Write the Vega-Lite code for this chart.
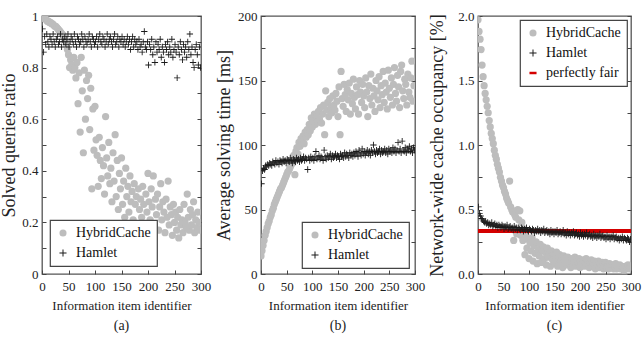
{
"$schema":"https://vega.github.io/schema/vega-lite/v6.json",
"padding":{"left":0,"top":9,"right":8,"bottom":0},
"spacing":2,
"resolve":{"scale":{"color":"independent","shape":"independent"},"legend":{"color":"independent","shape":"independent"}},
"config":{
 "font":"Liberation Serif",
 "view":{"stroke":"#555","strokeWidth":1.3},
 "axis":{"labelFont":"Liberation Serif","labelFontSize":13,"labelColor":"#222","titleFont":"Liberation Serif","titleFontWeight":"normal","titleColor":"#222","tickColor":"#444","tickWidth":1,"tickSize":-4,"grid":false,"domain":false},
 "axisX":{"titleFontSize":13,"labelPadding":10,"titlePadding":6,"labelFlush":false,"labelOverlap":false},
 "axisY":{"titleFontSize":18,"labelPadding":8,"titlePadding":4},
 "legend":{"title":null,"strokeColor":"#444","strokeWidth":1.2,"fillColor":"white","padding":6,"rowPadding":6,"labelFont":"Liberation Serif","labelFontSize":14,"labelColor":"#111","symbolSize":50,"labelOffset":6,"symbolStrokeWidth":0},
 "title":{"font":"Liberation Serif","fontSize":14,"fontWeight":"normal","color":"#222","orient":"bottom","anchor":"middle","offset":7}
},
"datasets":{
"aH":[{"x":0,"y":1.0},{"x":2,"y":0.995},{"x":4,"y":0.99},{"x":6,"y":0.99},{"x":8,"y":0.985},{"x":10,"y":0.98},{"x":12,"y":0.98},{"x":14,"y":0.975},{"x":16,"y":0.975},{"x":18,"y":0.97},{"x":20,"y":0.97},{"x":22,"y":0.965},{"x":24,"y":0.96},{"x":26,"y":0.96},{"x":28,"y":0.955},{"x":30,"y":0.95},{"x":32,"y":0.945},{"x":34,"y":0.94},{"x":36,"y":0.935},{"x":38,"y":0.93},{"x":40,"y":0.925},{"x":42,"y":0.915},{"x":44,"y":0.905},{"x":46,"y":0.89},{"x":48,"y":0.87},{"x":50,"y":0.85},{"x":52,"y":0.8},{"x":54,"y":0.83},{"x":56,"y":0.81},{"x":58,"y":0.79},{"x":60,"y":0.84},{"x":62,"y":0.8},{"x":64,"y":0.76},{"x":66,"y":0.82},{"x":68,"y":0.66},{"x":70,"y":0.78},{"x":72,"y":0.55},{"x":74,"y":0.84},{"x":76,"y":0.71},{"x":78,"y":0.47},{"x":80,"y":0.79},{"x":82,"y":0.6},{"x":84,"y":0.75},{"x":86,"y":0.68},{"x":88,"y":0.77},{"x":90,"y":0.56},{"x":92,"y":0.72},{"x":94,"y":0.33},{"x":96,"y":0.64},{"x":98,"y":0.48},{"x":100,"y":0.65},{"x":102,"y":0.52},{"x":104,"y":0.46},{"x":106,"y":0.34},{"x":108,"y":0.53},{"x":110,"y":0.44},{"x":112,"y":0.37},{"x":114,"y":0.49},{"x":116,"y":0.42},{"x":118,"y":0.31},{"x":120,"y":0.61},{"x":122,"y":0.45},{"x":124,"y":0.38},{"x":126,"y":0.51},{"x":128,"y":0.35},{"x":130,"y":0.41},{"x":132,"y":0.28},{"x":134,"y":0.47},{"x":136,"y":0.36},{"x":138,"y":0.54},{"x":140,"y":0.3},{"x":142,"y":0.44},{"x":144,"y":0.25},{"x":146,"y":0.39},{"x":148,"y":0.33},{"x":150,"y":0.45},{"x":152,"y":0.27},{"x":154,"y":0.36},{"x":156,"y":0.22},{"x":158,"y":0.41},{"x":160,"y":0.3},{"x":162,"y":0.34},{"x":164,"y":0.24},{"x":166,"y":0.38},{"x":168,"y":0.28},{"x":170,"y":0.32},{"x":172,"y":0.21},{"x":174,"y":0.35},{"x":176,"y":0.27},{"x":178,"y":0.3},{"x":180,"y":0.19},{"x":182,"y":0.33},{"x":184,"y":0.25},{"x":186,"y":0.29},{"x":188,"y":0.22},{"x":190,"y":0.34},{"x":192,"y":0.27},{"x":194,"y":0.18},{"x":196,"y":0.31},{"x":198,"y":0.24},{"x":200,"y":0.39},{"x":202,"y":0.28},{"x":204,"y":0.21},{"x":206,"y":0.33},{"x":208,"y":0.26},{"x":210,"y":0.38},{"x":212,"y":0.19},{"x":214,"y":0.29},{"x":216,"y":0.23},{"x":218,"y":0.31},{"x":220,"y":0.17},{"x":222,"y":0.26},{"x":224,"y":0.35},{"x":226,"y":0.21},{"x":228,"y":0.28},{"x":230,"y":0.24},{"x":232,"y":0.16},{"x":234,"y":0.29},{"x":236,"y":0.22},{"x":238,"y":0.36},{"x":240,"y":0.19},{"x":242,"y":0.26},{"x":244,"y":0.23},{"x":246,"y":0.15},{"x":248,"y":0.27},{"x":250,"y":0.2},{"x":252,"y":0.24},{"x":254,"y":0.17},{"x":256,"y":0.22},{"x":258,"y":0.14},{"x":260,"y":0.25},{"x":262,"y":0.19},{"x":264,"y":0.21},{"x":266,"y":0.16},{"x":268,"y":0.27},{"x":270,"y":0.2},{"x":272,"y":0.18},{"x":274,"y":0.31},{"x":276,"y":0.22},{"x":278,"y":0.17},{"x":280,"y":0.25},{"x":282,"y":0.19},{"x":284,"y":0.23},{"x":286,"y":0.28},{"x":288,"y":0.16},{"x":290,"y":0.21},{"x":292,"y":0.18},{"x":294,"y":0.24},{"x":296,"y":0.2},{"x":298,"y":0.17}],
"aM":[{"x":1,"y":0.95},{"x":3,"y":0.86},{"x":5,"y":0.92},{"x":7,"y":0.89},{"x":9,"y":0.93},{"x":11,"y":0.9},{"x":13,"y":0.88},{"x":15,"y":0.92},{"x":17,"y":0.91},{"x":19,"y":0.89},{"x":21,"y":0.93},{"x":23,"y":0.9},{"x":25,"y":0.88},{"x":27,"y":0.91},{"x":29,"y":0.92},{"x":31,"y":0.89},{"x":33,"y":0.9},{"x":35,"y":0.93},{"x":37,"y":0.88},{"x":39,"y":0.91},{"x":41,"y":0.9},{"x":43,"y":0.92},{"x":45,"y":0.89},{"x":47,"y":0.91},{"x":49,"y":0.93},{"x":51,"y":0.88},{"x":53,"y":0.9},{"x":55,"y":0.92},{"x":57,"y":0.91},{"x":59,"y":0.89},{"x":61,"y":0.93},{"x":63,"y":0.9},{"x":65,"y":0.88},{"x":67,"y":0.92},{"x":69,"y":0.91},{"x":71,"y":0.89},{"x":73,"y":0.9},{"x":75,"y":0.93},{"x":77,"y":0.91},{"x":79,"y":0.88},{"x":81,"y":0.92},{"x":83,"y":0.9},{"x":85,"y":0.89},{"x":87,"y":0.91},{"x":89,"y":0.93},{"x":91,"y":0.9},{"x":93,"y":0.88},{"x":95,"y":0.92},{"x":97,"y":0.91},{"x":99,"y":0.89},{"x":101,"y":0.9},{"x":103,"y":0.92},{"x":105,"y":0.88},{"x":107,"y":0.91},{"x":109,"y":0.93},{"x":111,"y":0.9},{"x":113,"y":0.89},{"x":115,"y":0.92},{"x":117,"y":0.91},{"x":119,"y":0.88},{"x":121,"y":0.9},{"x":123,"y":0.93},{"x":125,"y":0.89},{"x":127,"y":0.91},{"x":129,"y":0.92},{"x":131,"y":0.9},{"x":133,"y":0.88},{"x":135,"y":0.91},{"x":137,"y":0.93},{"x":139,"y":0.89},{"x":141,"y":0.9},{"x":143,"y":0.92},{"x":145,"y":0.88},{"x":147,"y":0.91},{"x":149,"y":0.9},{"x":151,"y":0.92},{"x":153,"y":0.89},{"x":155,"y":0.91},{"x":157,"y":0.88},{"x":159,"y":0.9},{"x":161,"y":0.92},{"x":163,"y":0.89},{"x":165,"y":0.91},{"x":167,"y":0.87},{"x":169,"y":0.9},{"x":171,"y":0.92},{"x":173,"y":0.88},{"x":175,"y":0.91},{"x":177,"y":0.89},{"x":179,"y":0.9},{"x":181,"y":0.87},{"x":183,"y":0.91},{"x":185,"y":0.88},{"x":187,"y":0.89},{"x":189,"y":0.86},{"x":191,"y":0.9},{"x":193,"y":0.94},{"x":195,"y":0.88},{"x":197,"y":0.87},{"x":199,"y":0.9},{"x":201,"y":0.81},{"x":203,"y":0.89},{"x":205,"y":0.87},{"x":207,"y":0.91},{"x":209,"y":0.85},{"x":211,"y":0.88},{"x":213,"y":0.82},{"x":215,"y":0.9},{"x":217,"y":0.86},{"x":219,"y":0.89},{"x":221,"y":0.87},{"x":223,"y":0.91},{"x":225,"y":0.84},{"x":227,"y":0.88},{"x":229,"y":0.86},{"x":231,"y":0.82},{"x":233,"y":0.89},{"x":235,"y":0.87},{"x":237,"y":0.9},{"x":239,"y":0.85},{"x":241,"y":0.88},{"x":243,"y":0.86},{"x":245,"y":0.91},{"x":247,"y":0.84},{"x":249,"y":0.87},{"x":251,"y":0.89},{"x":253,"y":0.86},{"x":255,"y":0.76},{"x":257,"y":0.88},{"x":259,"y":0.85},{"x":261,"y":0.9},{"x":263,"y":0.87},{"x":265,"y":0.83},{"x":267,"y":0.89},{"x":269,"y":0.86},{"x":271,"y":0.88},{"x":273,"y":0.84},{"x":275,"y":0.9},{"x":277,"y":0.87},{"x":279,"y":0.93},{"x":281,"y":0.85},{"x":283,"y":0.88},{"x":285,"y":0.82},{"x":287,"y":0.8},{"x":289,"y":0.87},{"x":291,"y":0.89},{"x":293,"y":0.85},{"x":295,"y":0.81},{"x":297,"y":0.88},{"x":299,"y":0.8}],
"bH":[{"x":0,"y":14},{"x":2,"y":18},{"x":4,"y":22},{"x":6,"y":26},{"x":8,"y":30},{"x":10,"y":33},{"x":12,"y":36},{"x":14,"y":39},{"x":16,"y":41},{"x":18,"y":44},{"x":20,"y":46},{"x":22,"y":49},{"x":24,"y":51},{"x":26,"y":54},{"x":28,"y":56},{"x":30,"y":58},{"x":32,"y":60},{"x":34,"y":62},{"x":36,"y":64},{"x":38,"y":66},{"x":40,"y":67},{"x":42,"y":69},{"x":44,"y":71},{"x":46,"y":73},{"x":48,"y":75},{"x":50,"y":77},{"x":52,"y":79},{"x":54,"y":80},{"x":56,"y":82},{"x":58,"y":84},{"x":60,"y":87},{"x":62,"y":86},{"x":64,"y":92},{"x":66,"y":77},{"x":68,"y":95},{"x":70,"y":98},{"x":72,"y":93},{"x":74,"y":102},{"x":76,"y":99},{"x":78,"y":105},{"x":80,"y":103},{"x":82,"y":107},{"x":84,"y":101},{"x":86,"y":110},{"x":88,"y":106},{"x":90,"y":112},{"x":92,"y":108},{"x":94,"y":116},{"x":96,"y":111},{"x":98,"y":121},{"x":100,"y":114},{"x":102,"y":119},{"x":104,"y":124},{"x":106,"y":116},{"x":108,"y":122},{"x":110,"y":118},{"x":112,"y":126},{"x":114,"y":120},{"x":116,"y":129},{"x":118,"y":117},{"x":120,"y":124},{"x":122,"y":131},{"x":124,"y":108},{"x":126,"y":142},{"x":128,"y":127},{"x":130,"y":133},{"x":132,"y":122},{"x":134,"y":136},{"x":136,"y":129},{"x":138,"y":125},{"x":140,"y":138},{"x":142,"y":131},{"x":144,"y":127},{"x":146,"y":140},{"x":148,"y":134},{"x":150,"y":122},{"x":152,"y":145},{"x":154,"y":108},{"x":156,"y":157},{"x":158,"y":136},{"x":160,"y":130},{"x":162,"y":147},{"x":164,"y":139},{"x":166,"y":126},{"x":168,"y":143},{"x":170,"y":135},{"x":172,"y":148},{"x":174,"y":124},{"x":176,"y":140},{"x":178,"y":132},{"x":180,"y":151},{"x":182,"y":137},{"x":184,"y":128},{"x":186,"y":145},{"x":188,"y":139},{"x":190,"y":124},{"x":192,"y":150},{"x":194,"y":141},{"x":196,"y":133},{"x":198,"y":147},{"x":200,"y":138},{"x":202,"y":129},{"x":204,"y":152},{"x":206,"y":141},{"x":208,"y":122},{"x":210,"y":146},{"x":212,"y":136},{"x":214,"y":155},{"x":216,"y":131},{"x":218,"y":144},{"x":220,"y":138},{"x":222,"y":126},{"x":224,"y":150},{"x":226,"y":142},{"x":228,"y":135},{"x":230,"y":153},{"x":232,"y":129},{"x":234,"y":146},{"x":236,"y":139},{"x":238,"y":157},{"x":240,"y":133},{"x":242,"y":148},{"x":244,"y":141},{"x":246,"y":128},{"x":248,"y":158},{"x":250,"y":144},{"x":252,"y":137},{"x":254,"y":152},{"x":256,"y":131},{"x":258,"y":147},{"x":260,"y":160},{"x":262,"y":140},{"x":264,"y":134},{"x":266,"y":154},{"x":268,"y":145},{"x":270,"y":129},{"x":272,"y":157},{"x":274,"y":162},{"x":276,"y":142},{"x":278,"y":136},{"x":280,"y":151},{"x":282,"y":147},{"x":284,"y":131},{"x":286,"y":155},{"x":288,"y":141},{"x":290,"y":137},{"x":292,"y":152},{"x":294,"y":165},{"x":296,"y":134},{"x":298,"y":146}],
"bM":[{"x":1,"y":70},{"x":3,"y":80},{"x":5,"y":82},{"x":7,"y":81},{"x":9,"y":84},{"x":11,"y":83},{"x":13,"y":85},{"x":15,"y":84},{"x":17,"y":86},{"x":19,"y":85},{"x":21,"y":84},{"x":23,"y":87},{"x":25,"y":86},{"x":27,"y":85},{"x":29,"y":88},{"x":31,"y":86},{"x":33,"y":87},{"x":35,"y":85},{"x":37,"y":88},{"x":39,"y":87},{"x":41,"y":86},{"x":43,"y":89},{"x":45,"y":87},{"x":47,"y":88},{"x":49,"y":86},{"x":51,"y":89},{"x":53,"y":88},{"x":55,"y":87},{"x":57,"y":90},{"x":59,"y":88},{"x":61,"y":86},{"x":63,"y":89},{"x":65,"y":88},{"x":67,"y":87},{"x":69,"y":90},{"x":71,"y":88},{"x":73,"y":89},{"x":75,"y":87},{"x":77,"y":90},{"x":79,"y":88},{"x":81,"y":89},{"x":83,"y":91},{"x":85,"y":88},{"x":87,"y":90},{"x":89,"y":89},{"x":91,"y":81},{"x":93,"y":90},{"x":95,"y":88},{"x":97,"y":91},{"x":99,"y":89},{"x":101,"y":90},{"x":103,"y":88},{"x":105,"y":91},{"x":107,"y":95},{"x":109,"y":89},{"x":111,"y":90},{"x":113,"y":92},{"x":115,"y":89},{"x":117,"y":91},{"x":119,"y":90},{"x":121,"y":88},{"x":123,"y":96},{"x":125,"y":91},{"x":127,"y":89},{"x":129,"y":92},{"x":131,"y":90},{"x":133,"y":91},{"x":135,"y":93},{"x":137,"y":89},{"x":139,"y":92},{"x":141,"y":90},{"x":143,"y":91},{"x":145,"y":93},{"x":147,"y":90},{"x":149,"y":92},{"x":151,"y":91},{"x":153,"y":89},{"x":155,"y":93},{"x":157,"y":91},{"x":159,"y":92},{"x":161,"y":90},{"x":163,"y":94},{"x":165,"y":91},{"x":167,"y":93},{"x":169,"y":92},{"x":171,"y":90},{"x":173,"y":94},{"x":175,"y":92},{"x":177,"y":93},{"x":179,"y":91},{"x":181,"y":94},{"x":183,"y":92},{"x":185,"y":95},{"x":187,"y":93},{"x":189,"y":91},{"x":191,"y":96},{"x":193,"y":94},{"x":195,"y":92},{"x":197,"y":97},{"x":199,"y":93},{"x":201,"y":95},{"x":203,"y":92},{"x":205,"y":94},{"x":207,"y":96},{"x":209,"y":93},{"x":211,"y":95},{"x":213,"y":92},{"x":215,"y":96},{"x":217,"y":94},{"x":219,"y":100},{"x":221,"y":95},{"x":223,"y":93},{"x":225,"y":96},{"x":227,"y":94},{"x":229,"y":95},{"x":231,"y":97},{"x":233,"y":93},{"x":235,"y":96},{"x":237,"y":94},{"x":239,"y":95},{"x":241,"y":97},{"x":243,"y":94},{"x":245,"y":96},{"x":247,"y":93},{"x":249,"y":97},{"x":251,"y":95},{"x":253,"y":96},{"x":255,"y":94},{"x":257,"y":98},{"x":259,"y":95},{"x":261,"y":97},{"x":263,"y":94},{"x":265,"y":96},{"x":267,"y":102},{"x":269,"y":95},{"x":271,"y":97},{"x":273,"y":94},{"x":275,"y":103},{"x":277,"y":96},{"x":279,"y":95},{"x":281,"y":98},{"x":283,"y":94},{"x":285,"y":97},{"x":287,"y":96},{"x":289,"y":99},{"x":291,"y":95},{"x":293,"y":97},{"x":295,"y":94},{"x":297,"y":98},{"x":299,"y":96}],
"cH":[{"x":0,"y":1.97},{"x":2,"y":1.88},{"x":4,"y":1.82},{"x":6,"y":1.74},{"x":8,"y":1.62},{"x":10,"y":1.53},{"x":12,"y":1.46},{"x":14,"y":1.4},{"x":16,"y":1.35},{"x":18,"y":1.3},{"x":20,"y":1.25},{"x":22,"y":1.19},{"x":24,"y":1.14},{"x":26,"y":1.09},{"x":28,"y":1.05},{"x":30,"y":1.01},{"x":32,"y":0.96},{"x":34,"y":0.92},{"x":36,"y":0.89},{"x":38,"y":0.85},{"x":40,"y":0.82},{"x":42,"y":0.79},{"x":44,"y":0.75},{"x":46,"y":0.72},{"x":48,"y":0.69},{"x":50,"y":0.67},{"x":52,"y":0.64},{"x":54,"y":0.62},{"x":56,"y":0.59},{"x":58,"y":0.57},{"x":60,"y":0.55},{"x":62,"y":0.72},{"x":64,"y":0.52},{"x":66,"y":0.5},{"x":68,"y":0.48},{"x":70,"y":0.26},{"x":72,"y":0.46},{"x":74,"y":0.44},{"x":76,"y":0.31},{"x":78,"y":0.5},{"x":80,"y":0.42},{"x":82,"y":0.49},{"x":84,"y":0.3},{"x":86,"y":0.4},{"x":88,"y":0.26},{"x":90,"y":0.35},{"x":92,"y":0.15},{"x":94,"y":0.3},{"x":96,"y":0.2},{"x":98,"y":0.27},{"x":100,"y":0.12},{"x":102,"y":0.24},{"x":104,"y":0.18},{"x":106,"y":0.28},{"x":108,"y":0.1},{"x":110,"y":0.22},{"x":112,"y":0.16},{"x":114,"y":0.25},{"x":116,"y":0.08},{"x":118,"y":0.19},{"x":120,"y":0.14},{"x":122,"y":0.23},{"x":124,"y":0.09},{"x":126,"y":0.18},{"x":128,"y":0.21},{"x":130,"y":0.12},{"x":132,"y":0.17},{"x":134,"y":0.07},{"x":136,"y":0.2},{"x":138,"y":0.13},{"x":140,"y":0.16},{"x":142,"y":0.06},{"x":144,"y":0.18},{"x":146,"y":0.11},{"x":148,"y":0.15},{"x":150,"y":0.08},{"x":152,"y":0.14},{"x":154,"y":0.17},{"x":156,"y":0.06},{"x":158,"y":0.12},{"x":160,"y":0.15},{"x":162,"y":0.09},{"x":164,"y":0.13},{"x":166,"y":0.05},{"x":168,"y":0.14},{"x":170,"y":0.1},{"x":172,"y":0.12},{"x":174,"y":0.07},{"x":176,"y":0.13},{"x":178,"y":0.09},{"x":180,"y":0.11},{"x":182,"y":0.05},{"x":184,"y":0.12},{"x":186,"y":0.08},{"x":188,"y":0.1},{"x":190,"y":0.13},{"x":192,"y":0.06},{"x":194,"y":0.11},{"x":196,"y":0.09},{"x":198,"y":0.12},{"x":200,"y":0.05},{"x":202,"y":0.1},{"x":204,"y":0.08},{"x":206,"y":0.11},{"x":208,"y":0.06},{"x":210,"y":0.09},{"x":212,"y":0.12},{"x":214,"y":0.07},{"x":216,"y":0.1},{"x":218,"y":0.05},{"x":220,"y":0.09},{"x":222,"y":0.11},{"x":224,"y":0.06},{"x":226,"y":0.08},{"x":228,"y":0.1},{"x":230,"y":0.04},{"x":232,"y":0.09},{"x":234,"y":0.07},{"x":236,"y":0.1},{"x":238,"y":0.05},{"x":240,"y":0.08},{"x":242,"y":0.06},{"x":244,"y":0.09},{"x":246,"y":0.04},{"x":248,"y":0.07},{"x":250,"y":0.09},{"x":252,"y":0.05},{"x":254,"y":0.07},{"x":256,"y":0.04},{"x":258,"y":0.08},{"x":260,"y":0.06},{"x":262,"y":0.05},{"x":264,"y":0.07},{"x":266,"y":0.04},{"x":268,"y":0.06},{"x":270,"y":0.08},{"x":272,"y":0.04},{"x":274,"y":0.06},{"x":276,"y":0.05},{"x":278,"y":0.07},{"x":280,"y":0.04},{"x":282,"y":0.06},{"x":284,"y":0.05},{"x":286,"y":0.03},{"x":288,"y":0.06},{"x":290,"y":0.05},{"x":292,"y":0.04},{"x":294,"y":0.07},{"x":296,"y":0.05},{"x":298,"y":0.04}],
"cM":[{"x":1,"y":0.52},{"x":3,"y":0.47},{"x":5,"y":0.45},{"x":7,"y":0.43},{"x":9,"y":0.42},{"x":11,"y":0.41},{"x":13,"y":0.4},{"x":15,"y":0.41},{"x":17,"y":0.39},{"x":19,"y":0.4},{"x":21,"y":0.38},{"x":23,"y":0.39},{"x":25,"y":0.38},{"x":27,"y":0.4},{"x":29,"y":0.37},{"x":31,"y":0.38},{"x":33,"y":0.39},{"x":35,"y":0.37},{"x":37,"y":0.38},{"x":39,"y":0.36},{"x":41,"y":0.38},{"x":43,"y":0.37},{"x":45,"y":0.36},{"x":47,"y":0.38},{"x":49,"y":0.37},{"x":51,"y":0.35},{"x":53,"y":0.37},{"x":55,"y":0.36},{"x":57,"y":0.38},{"x":59,"y":0.35},{"x":61,"y":0.36},{"x":63,"y":0.37},{"x":65,"y":0.35},{"x":67,"y":0.36},{"x":69,"y":0.34},{"x":71,"y":0.37},{"x":73,"y":0.35},{"x":75,"y":0.36},{"x":77,"y":0.34},{"x":79,"y":0.36},{"x":81,"y":0.35},{"x":83,"y":0.34},{"x":85,"y":0.36},{"x":87,"y":0.35},{"x":89,"y":0.33},{"x":91,"y":0.35},{"x":93,"y":0.34},{"x":95,"y":0.36},{"x":97,"y":0.34},{"x":99,"y":0.33},{"x":101,"y":0.35},{"x":103,"y":0.34},{"x":105,"y":0.33},{"x":107,"y":0.35},{"x":109,"y":0.34},{"x":111,"y":0.32},{"x":113,"y":0.34},{"x":115,"y":0.33},{"x":117,"y":0.35},{"x":119,"y":0.33},{"x":121,"y":0.34},{"x":123,"y":0.32},{"x":125,"y":0.34},{"x":127,"y":0.33},{"x":129,"y":0.35},{"x":131,"y":0.32},{"x":133,"y":0.33},{"x":135,"y":0.34},{"x":137,"y":0.32},{"x":139,"y":0.33},{"x":141,"y":0.31},{"x":143,"y":0.34},{"x":145,"y":0.32},{"x":147,"y":0.33},{"x":149,"y":0.31},{"x":151,"y":0.33},{"x":153,"y":0.32},{"x":155,"y":0.34},{"x":157,"y":0.31},{"x":159,"y":0.32},{"x":161,"y":0.33},{"x":163,"y":0.31},{"x":165,"y":0.32},{"x":167,"y":0.34},{"x":169,"y":0.31},{"x":171,"y":0.32},{"x":173,"y":0.3},{"x":175,"y":0.33},{"x":177,"y":0.31},{"x":179,"y":0.32},{"x":181,"y":0.3},{"x":183,"y":0.32},{"x":185,"y":0.31},{"x":187,"y":0.33},{"x":189,"y":0.3},{"x":191,"y":0.31},{"x":193,"y":0.32},{"x":195,"y":0.3},{"x":197,"y":0.31},{"x":199,"y":0.29},{"x":201,"y":0.32},{"x":203,"y":0.3},{"x":205,"y":0.31},{"x":207,"y":0.29},{"x":209,"y":0.31},{"x":211,"y":0.3},{"x":213,"y":0.32},{"x":215,"y":0.29},{"x":217,"y":0.3},{"x":219,"y":0.31},{"x":221,"y":0.29},{"x":223,"y":0.3},{"x":225,"y":0.28},{"x":227,"y":0.31},{"x":229,"y":0.29},{"x":231,"y":0.3},{"x":233,"y":0.28},{"x":235,"y":0.3},{"x":237,"y":0.29},{"x":239,"y":0.31},{"x":241,"y":0.28},{"x":243,"y":0.29},{"x":245,"y":0.3},{"x":247,"y":0.28},{"x":249,"y":0.29},{"x":251,"y":0.27},{"x":253,"y":0.3},{"x":255,"y":0.28},{"x":257,"y":0.29},{"x":259,"y":0.27},{"x":261,"y":0.29},{"x":263,"y":0.28},{"x":265,"y":0.3},{"x":267,"y":0.27},{"x":269,"y":0.28},{"x":271,"y":0.29},{"x":273,"y":0.27},{"x":275,"y":0.28},{"x":277,"y":0.26},{"x":279,"y":0.28},{"x":281,"y":0.27},{"x":283,"y":0.29},{"x":285,"y":0.26},{"x":287,"y":0.28},{"x":289,"y":0.27},{"x":291,"y":0.26},{"x":293,"y":0.28},{"x":295,"y":0.27},{"x":297,"y":0.25},{"x":299,"y":0.27}],
"cF":[{"x":0,"y":0.333},{"x":300,"y":0.333}]
},
"hconcat":[
{"width":159,"height":258,"title":"(a)",
 "resolve":{"axis":{"y":"independent"}},
 "encoding":{"x":{"field":"x","type":"quantitative","scale":{"domain":[0,300],"nice":false},"axis":{"values":[0,50,100,150,200,250,300],"title":"Information item identifier"}}},
 "layer":[
  {"data":{"name":"aH"},"mark":{"type":"point","filled":true,"opacity":1,"size":52,"clip":true},
   "encoding":{
    "y":{"field":"y","type":"quantitative","scale":{"domain":[0,1],"nice":false},"axis":{"values":[0,0.1,0.2,0.3,0.4,0.5,0.6,0.7,0.8,0.9,1],"labelExpr":"round(datum.value*10)%2==0 ? format(datum.value,'~g') : ''","title":"Solved queries ratio","titlePadding":3}},
    "color":{"datum":"HybridCache","type":"nominal","scale":{"domain":["HybridCache","Hamlet"],"range":["#bdbdbd","#1a1a1a"]},"legend":{"orient":"bottom-left","offset":8}},
    "shape":{"datum":"HybridCache","type":"nominal","scale":{"domain":["HybridCache","Hamlet"],"range":["circle","M-1,-0.14H1V0.14H-1Z M-0.14,-1H0.14V1H-0.14Z"]},"legend":{"orient":"bottom-left","offset":8}}}},
  {"data":{"name":"aM"},"mark":{"type":"point","filled":true,"opacity":1,"size":40,"clip":true},
   "encoding":{
    "y":{"field":"y","type":"quantitative","scale":{"domain":[0,1],"nice":false},"axis":{"orient":"right","values":[0,0.1,0.2,0.3,0.4,0.5,0.6,0.7,0.8,0.9,1],"labels":false,"title":null}},
    "color":{"datum":"Hamlet","type":"nominal","scale":{"domain":["HybridCache","Hamlet"],"range":["#bdbdbd","#1a1a1a"]},"legend":{"orient":"bottom-left","offset":8}},
    "shape":{"datum":"Hamlet","type":"nominal","scale":{"domain":["HybridCache","Hamlet"],"range":["circle","M-1,-0.14H1V0.14H-1Z M-0.14,-1H0.14V1H-0.14Z"]},"legend":{"orient":"bottom-left","offset":8}}}}
 ]},
{"width":154,"height":258,"title":"(b)",
 "resolve":{"axis":{"y":"independent"}},
 "encoding":{"x":{"field":"x","type":"quantitative","scale":{"domain":[0,300],"nice":false},"axis":{"values":[0,50,100,150,200,250,300],"title":"Information item identifier"}}},
 "layer":[
  {"data":{"name":"bH"},"mark":{"type":"point","filled":true,"opacity":1,"size":52,"clip":true},
   "encoding":{
    "y":{"field":"y","type":"quantitative","scale":{"domain":[0,200],"nice":false},"axis":{"values":[0,25,50,75,100,125,150,175,200],"labelExpr":"datum.value%50==0 ? datum.label : ''","title":"Average solving time [ms]"}},
    "color":{"datum":"HybridCache","type":"nominal","scale":{"domain":["HybridCache","Hamlet"],"range":["#bdbdbd","#1a1a1a"]},"legend":{"orient":"bottom-right","offset":6}},
    "shape":{"datum":"HybridCache","type":"nominal","scale":{"domain":["HybridCache","Hamlet"],"range":["circle","M-1,-0.14H1V0.14H-1Z M-0.14,-1H0.14V1H-0.14Z"]},"legend":{"orient":"bottom-right","offset":6}}}},
  {"data":{"name":"bM"},"mark":{"type":"point","filled":true,"opacity":1,"size":40,"clip":true},
   "encoding":{
    "y":{"field":"y","type":"quantitative","scale":{"domain":[0,200],"nice":false},"axis":{"orient":"right","values":[0,25,50,75,100,125,150,175,200],"labels":false,"title":null}},
    "color":{"datum":"Hamlet","type":"nominal","scale":{"domain":["HybridCache","Hamlet"],"range":["#bdbdbd","#1a1a1a"]},"legend":{"orient":"bottom-right","offset":6}},
    "shape":{"datum":"Hamlet","type":"nominal","scale":{"domain":["HybridCache","Hamlet"],"range":["circle","M-1,-0.14H1V0.14H-1Z M-0.14,-1H0.14V1H-0.14Z"]},"legend":{"orient":"bottom-right","offset":6}}}}
 ]},
{"width":153,"height":258,"title":"(c)",
 "resolve":{"axis":{"y":"independent"}},
 "encoding":{"x":{"field":"x","type":"quantitative","scale":{"domain":[0,300],"nice":false},"axis":{"values":[0,50,100,150,200,250,300],"title":"Information item identifier"}}},
 "layer":[
  {"data":{"name":"cH"},"mark":{"type":"point","filled":true,"opacity":1,"size":52,"clip":true},
   "encoding":{
    "y":{"field":"y","type":"quantitative","scale":{"domain":[0,2],"nice":false},"axis":{"values":[0,0.25,0.5,0.75,1,1.25,1.5,1.75,2],"labelExpr":"datum.value%0.5==0 ? format(datum.value,'.1f') : ''","title":"Network-wide cache occupancy [%]","titlePadding":11}},
    "color":{"datum":"HybridCache","type":"nominal","scale":{"domain":["HybridCache","Hamlet","perfectly fair"],"range":["#bdbdbd","#1a1a1a","#d40000"]},"legend":{"orient":"top-right","offset":4}},
    "shape":{"datum":"HybridCache","type":"nominal","scale":{"domain":["HybridCache","Hamlet","perfectly fair"],"range":["circle","M-1,-0.14H1V0.14H-1Z M-0.14,-1H0.14V1H-0.14Z","M-1,-0.35H1V0.35H-1Z"]},"legend":{"orient":"top-right","offset":4}}}},
  {"data":{"name":"cF"},"mark":{"type":"line","color":"#d40000","strokeWidth":4,"clip":true},
   "encoding":{
    "y":{"field":"y","type":"quantitative","scale":{"domain":[0,2],"nice":false},"axis":null}}},
  {"data":{"name":"cM"},"mark":{"type":"point","filled":true,"opacity":1,"size":40,"clip":true},
   "encoding":{
    "y":{"field":"y","type":"quantitative","scale":{"domain":[0,2],"nice":false},"axis":{"orient":"right","values":[0,0.25,0.5,0.75,1,1.25,1.5,1.75,2],"labels":false,"title":null}},
    "color":{"datum":"Hamlet","type":"nominal","scale":{"domain":["HybridCache","Hamlet","perfectly fair"],"range":["#bdbdbd","#1a1a1a","#d40000"]},"legend":{"orient":"top-right","offset":4}},
    "shape":{"datum":"Hamlet","type":"nominal","scale":{"domain":["HybridCache","Hamlet","perfectly fair"],"range":["circle","M-1,-0.14H1V0.14H-1Z M-0.14,-1H0.14V1H-0.14Z","M-1,-0.35H1V0.35H-1Z"]},"legend":{"orient":"top-right","offset":4}}}}
 ]}
]
}
